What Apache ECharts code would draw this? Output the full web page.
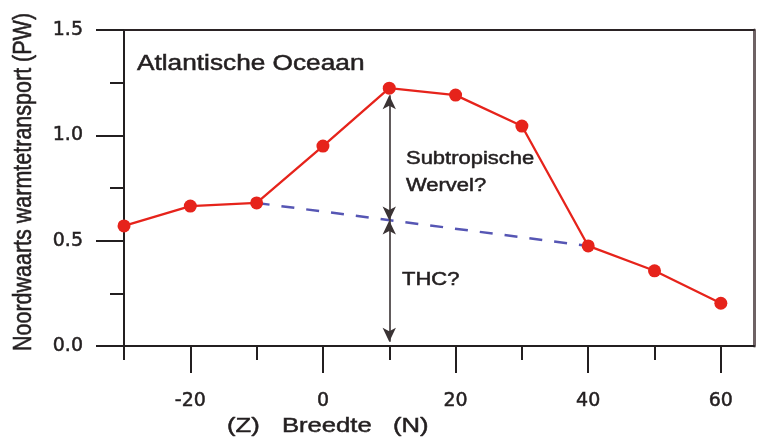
<!DOCTYPE html>
<html>
<head>
<meta charset="utf-8">
<script src="https://cdn.jsdelivr.net/npm/echarts@6/dist/echarts.min.js"></script>
<style>
html,body{margin:0;padding:0;background:#fff;}
#main{width:761px;height:439px;}
</style>
</head>
<body>
<div id="main"></div>
<script>
// Data
var latitudes = [-30, -20, -10, 0, 10, 20, 30, 40, 50, 60];
var heatTransport = [0.570, 0.664, 0.679, 0.949, 1.224, 1.191, 1.044, 0.475, 0.357, 0.203];
var thcLineLat = [-10, 40];
var thcLineVal = [0.679, 0.475];
var arrowLat = 10;
var arrowTop = 1.19;
var arrowMid = 0.596;
var arrowBottom = 0.02;
var xMajorTicks = [-20, 0, 20, 40, 60];
var xMinorTicks = [-30, -10, 10, 30, 50];
var yTicks = [0, 0.5, 1.0, 1.5];

var chart = echarts.init(document.getElementById('main'), null, {renderer: 'canvas'});
var dark = '#231f20';
var txtFont = '"Liberation Sans", Arial, sans-serif';
var tickFont = '"DejaVu Sans", sans-serif';
var SX = 1.22;

function txt(text, x, y, size, opts) {
  opts = opts || {};
  return {
    type: 'text', x: x, y: y,
    rotation: opts.rotation || 0,
    scaleX: opts.scaleX !== undefined ? opts.scaleX : SX,
    scaleY: opts.scaleY !== undefined ? opts.scaleY : 1,
    silent: true, z: 100,
    style: {
      text: text, fill: dark, fontSize: size, fontFamily: txtFont,
      stroke: dark, lineWidth: 0.5,
      align: opts.align || 'left', verticalAlign: 'middle',
      textAlign: opts.align || 'left', textVerticalAlign: 'middle'
    }
  };
}

var option = {
  animation: false,
  backgroundColor: '#ffffff',
  grid: {left: 124, right: 7, top: 30, bottom: 93, containLabel: false},
  xAxis: [
    {
      type: 'value', min: -30, max: 65, position: 'bottom',
      axisLine: {show: true, onZero: false, lineStyle: {color: dark, width: 2}},
      axisTick: {show: true, customValues: xMajorTicks, length: 27, lineStyle: {color: dark, width: 2}},
      axisLabel: {show: true, customValues: xMajorTicks, margin: 46, fontSize: 19, fontFamily: tickFont, color: dark,
        textBorderColor: dark, textBorderWidth: 0.5},
      splitLine: {show: false}
    },
    {
      type: 'value', min: -30, max: 65, position: 'bottom',
      axisLine: {show: false, onZero: false},
      axisTick: {show: true, customValues: xMinorTicks, length: 14, lineStyle: {color: dark, width: 2}},
      axisLabel: {show: false},
      splitLine: {show: false}
    },
    {
      type: 'value', min: -30, max: 65, position: 'top',
      axisLine: {show: true, onZero: false, lineStyle: {color: '#2b2325', width: 2}},
      axisTick: {show: false}, axisLabel: {show: false}, splitLine: {show: false}
    }
  ],
  yAxis: [
    {
      type: 'value', min: 0, max: 1.5, interval: 0.5, position: 'left',
      axisLine: {show: true, onZero: false, lineStyle: {color: dark, width: 2}},
      axisTick: {show: true, length: 28, lineStyle: {color: dark, width: 2}},
      minorTick: {show: true, splitNumber: 2, length: 14, lineStyle: {color: dark, width: 2}},
      axisLabel: {
        show: true, margin: 41, fontSize: 19, fontFamily: tickFont, color: dark,
        textBorderColor: dark, textBorderWidth: 0.5,
        customValues: yTicks,
        formatter: function (v) { return v.toFixed(1); }
      },
      splitLine: {show: false}
    },
    {
      type: 'value', min: 0, max: 1.5, position: 'right',
      axisLine: {show: true, onZero: false, lineStyle: {color: '#6e6264', width: 3}},
      axisTick: {show: false}, axisLabel: {show: false}, splitLine: {show: false}
    }
  ],
  series: [
    {
      type: 'line', name: 'THC', xAxisIndex: 0, yAxisIndex: 0,
      data: thcLineLat.map(function (x, i) { return [x, thcLineVal[i]]; }),
      showSymbol: false, symbol: 'none', silent: true, z: 3,
      lineStyle: {color: '#5656b4', width: 2.5, type: [13, 12]}
    },
    {
      type: 'line', name: 'arrows', xAxisIndex: 0, yAxisIndex: 0, data: [], silent: true, z: 4,
      markLine: {
        silent: true, animation: false,
        symbol: ['arrow', 'arrow'], symbolSize: [10, 14],
        label: {show: false},
        lineStyle: {color: '#3a3334', width: 1.6, type: 'solid'},
        emphasis: {disabled: true},
        data: [
          [{coord: [arrowLat, arrowTop]}, {coord: [arrowLat, arrowMid]}],
          [{coord: [arrowLat, arrowMid]}, {coord: [arrowLat, arrowBottom]}]
        ]
      }
    },
    {
      type: 'line', name: 'Atlantische Oceaan', xAxisIndex: 0, yAxisIndex: 0,
      data: latitudes.map(function (x, i) { return [x, heatTransport[i]]; }),
      symbol: 'circle', symbolSize: 13, clip: false, z: 5,
      itemStyle: {color: '#e6231b'},
      lineStyle: {color: '#e6231b', width: 2.3},
      emphasis: {disabled: true}
    }
  ],
  graphic: [
    txt('Atlantische Oceaan', 137, 64, 21.5),
    txt('Subtropische', 406, 159, 18),
    txt('Wervel?', 406, 186, 18),
    txt('THC?', 402, 280, 18),
    txt('(Z)', 227, 426, 21),
    txt('Breedte', 282, 426, 21),
    txt('(N)', 393, 426, 21),
    txt('Noordwaarts warmtetransport (PW)', 24, 182, 21.5, {rotation: Math.PI / 2, align: 'center', scaleX: 1, scaleY: 1.2})
  ]
};
chart.setOption(option);
</script>
</body>
</html>
